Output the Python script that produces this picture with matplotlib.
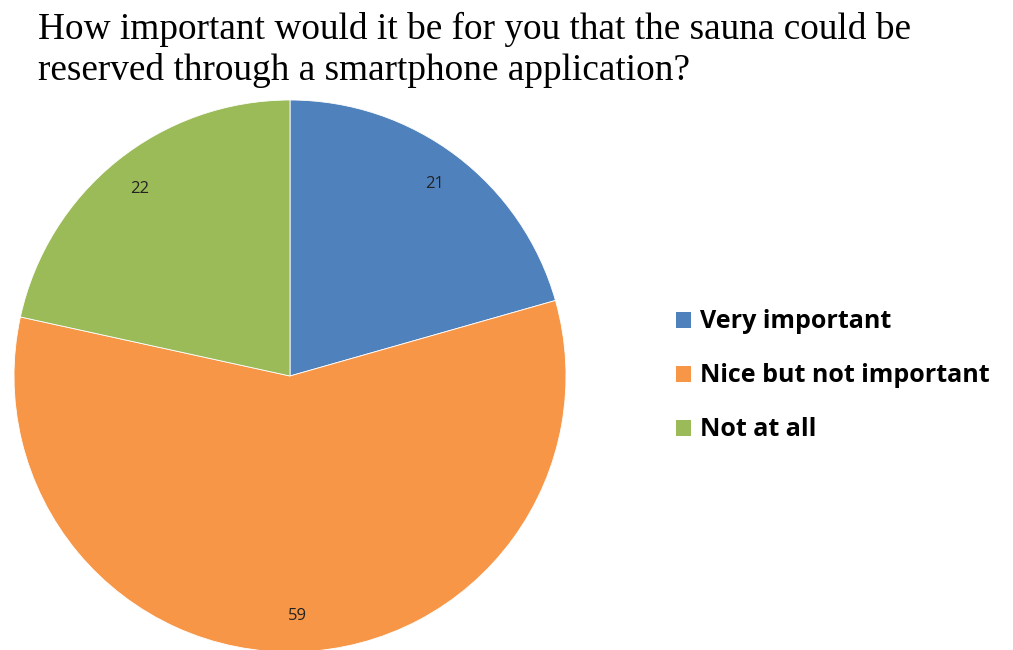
import matplotlib.pyplot as plt
from matplotlib.patches import Patch

categories = ['Very important', 'Nice but not important', 'Not at all']
values = [21, 59, 22]
colors = ['#4F81BD', '#F79646', '#9BBB59']
title = 'How important would it be for you that the sauna could be\nreserved through a smartphone application?'

W, H = 1013, 650
fig = plt.figure(figsize=(W / 100, H / 100), dpi=100)

# pie axes: centre ~(290, 376) px, radius ~276 px
cx, cy, r = 290, 376, 276
ax = fig.add_axes([(cx - r) / W, (H - cy - r) / H, 2 * r / W, 2 * r / H])
wedges, texts, autotexts = ax.pie(
    values, colors=colors, startangle=90, counterclock=False,
    autopct=lambda p: '%d' % round(p * sum(values) / 100),
    pctdistance=0.87, radius=1,
    wedgeprops=dict(edgecolor='white', linewidth=0.6),
    textprops=dict(family='Open Sans', fontsize=12, color='#222222'))
ax.set_xlim(-1, 1)
ax.set_ylim(-1, 1)
ax.set_aspect('equal')
ax.axis('off')

fig.text(38 / W, 1 - 12 / H, title, family='Liberation Serif', fontsize=26.8,
         va='top', ha='left', linespacing=1.22)

handles = [Patch(facecolor=c, edgecolor='none') for c in colors]
fig.legend(handles, categories, loc='center left',
           bbox_to_anchor=(666 / W, 1 - 376 / H), frameon=False,
           prop=dict(family='Open Sans', weight='bold', size=18),
           handlelength=0.6, handleheight=0.6, handletextpad=0.35,
           labelspacing=1.16, borderaxespad=0)

fig.savefig('out.png', dpi=100)
